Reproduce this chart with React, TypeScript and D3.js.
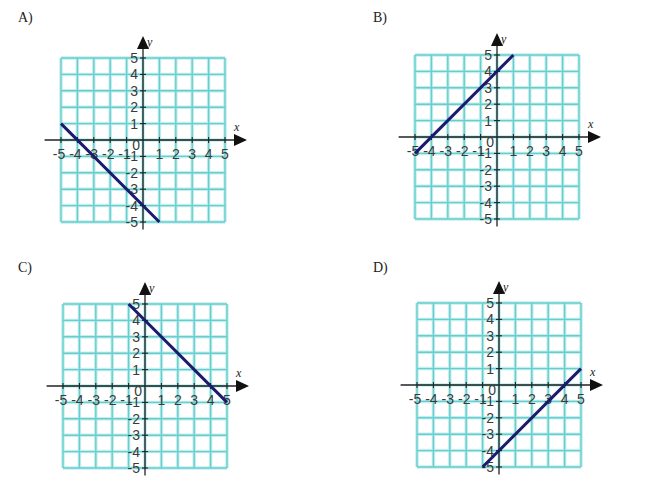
import React, { useEffect, useRef } from "react";
import * as d3 from "d3";

const panelNames = ["A)", "B)", "C)", "D)"];
const gridTicks = [-5, -4, -3, -2, -1, 0, 1, 2, 3, 4, 5];
const labelTicks = [-5, -4, -3, -2, -1, 1, 2, 3, 4, 5];
// line endpoints per panel, in graph units [x, y]
const lineA = [[-5, 1], [1, -5]];
const lineB = [[-5, -1], [1, 5]];
const lineC = [[-1, 5], [5, -1]];
const lineD = [[-1, -5], [5, 1]];
const lines = [lineA, lineB, lineC, lineD];

// layout of each panel: grid left/top and caption position
const panels = [
  { left: 61, top: 58, lx: 18, ly: 22 },
  { left: 415, top: 55, lx: 373, ly: 22 },
  { left: 63, top: 304, lx: 18, ly: 272 },
  { left: 417, top: 303, lx: 373, ly: 272 },
];
const SIZE = 164;

export default function App() {
  const svgRef = useRef<SVGSVGElement>(null);

  useEffect(() => {
    if (!svgRef.current) return;
    const svg = d3.select(svgRef.current);
    svg.selectAll("*").remove();

    panels.forEach((p, i) => {
      const x = d3.scaleLinear().domain([-5, 5]).range([p.left, p.left + SIZE]);
      const y = d3.scaleLinear().domain([-5, 5]).range([p.top + SIZE, p.top]);
      const g = svg.append("g");

      g.append("text")
        .attr("x", p.lx)
        .attr("y", p.ly)
        .attr("font-family", "'Liberation Serif', serif")
        .attr("font-size", 14)
        .attr("fill", "#222")
        .text(panelNames[i]);

      // grid, soft glow underneath
      const grid = g.append("g");
      [["#c6eeee", 3.5], ["#66cece", 1.4]].forEach(([col, w]) => {
        grid.selectAll(null)
          .data(gridTicks)
          .enter()
          .append("line")
          .attr("x1", (d) => x(d))
          .attr("x2", (d) => x(d))
          .attr("y1", y(-5))
          .attr("y2", y(5))
          .attr("stroke", col as string)
          .attr("stroke-width", w as number);
        grid.selectAll(null)
          .data(gridTicks)
          .enter()
          .append("line")
          .attr("y1", (d) => y(d))
          .attr("y2", (d) => y(d))
          .attr("x1", x(-5))
          .attr("x2", x(5))
          .attr("stroke", col as string)
          .attr("stroke-width", w as number);
      });

      const ox = x(0);
      const oy = y(0);

      // axes
      g.append("line")
        .attr("x1", x(-6)).attr("x2", x(5.7))
        .attr("y1", oy).attr("y2", oy)
        .attr("stroke", "#222").attr("stroke-width", 1.3);
      g.append("line")
        .attr("x1", ox).attr("x2", ox)
        .attr("y1", y(-5.45)).attr("y2", y(5.6))
        .attr("stroke", "#222").attr("stroke-width", 1.3);
      g.append("path")
        .attr("d", `M${x(5.55)},${oy - 6}L${x(5.55) + 13},${oy}L${x(5.55)},${oy + 6}Z`)
        .attr("fill", "#111");
      g.append("path")
        .attr("d", `M${ox - 6},${y(5.55)}L${ox},${y(5.55) - 13}L${ox + 6},${y(5.55)}Z`)
        .attr("fill", "#111");

      // tick marks
      g.selectAll(null)
        .data(labelTicks)
        .enter()
        .append("line")
        .attr("x1", (d) => x(d)).attr("x2", (d) => x(d))
        .attr("y1", oy - 3).attr("y2", oy + 3)
        .attr("stroke", "#222").attr("stroke-width", 1.1);
      g.selectAll(null)
        .data(labelTicks)
        .enter()
        .append("line")
        .attr("y1", (d) => y(d)).attr("y2", (d) => y(d))
        .attr("x1", ox - 3).attr("x2", ox + 3)
        .attr("stroke", "#222").attr("stroke-width", 1.1);

      const font = "'Liberation Sans', Arial, sans-serif";
      g.selectAll(null)
        .data(labelTicks)
        .enter()
        .append("text")
        .attr("x", (d) => x(d) - (d < 0 ? 2 : 0))
        .attr("y", oy + 19)
        .attr("text-anchor", "middle")
        .attr("font-family", font)
        .attr("font-size", 14)
        .attr("fill", "#3a3a3a")
        .text((d) => String(d));
      g.selectAll(null)
        .data(labelTicks)
        .enter()
        .append("text")
        .attr("x", ox - 5)
        .attr("y", (d) => y(d) + 5)
        .attr("text-anchor", "end")
        .attr("font-family", font)
        .attr("font-size", 14)
        .attr("fill", "#3a3a3a")
        .text((d) => String(d));
      g.append("text")
        .attr("x", ox - 3)
        .attr("y", oy + 10)
        .attr("text-anchor", "end")
        .attr("font-family", font)
        .attr("font-size", 14)
        .attr("fill", "#3a3a3a")
        .text("0");

      g.append("text")
        .attr("x", x(5.55))
        .attr("y", oy - 9)
        .attr("font-family", "'Liberation Serif', serif")
        .attr("font-style", "italic")
        .attr("font-size", 12)
        .attr("fill", "#222")
        .text("x");
      g.append("text")
        .attr("x", ox + 4)
        .attr("y", y(5.6) - 2)
        .attr("font-family", "'Liberation Serif', serif")
        .attr("font-style", "italic")
        .attr("font-size", 12)
        .attr("fill", "#222")
        .text("y");

      const line = d3.line<number[]>()
        .x((d) => x(d[0]))
        .y((d) => y(d[1]));
      g.append("path")
        .attr("d", line(lines[i]) || "")
        .attr("fill", "none")
        .attr("stroke", "#1b1b6e")
        .attr("stroke-width", 3);
    });
  }, []);

  return (
    <svg
      ref={svgRef}
      width={650}
      height={496}
      style={{ position: "absolute", left: 0, top: 0, background: "#fff" }}
    />
  );
}
